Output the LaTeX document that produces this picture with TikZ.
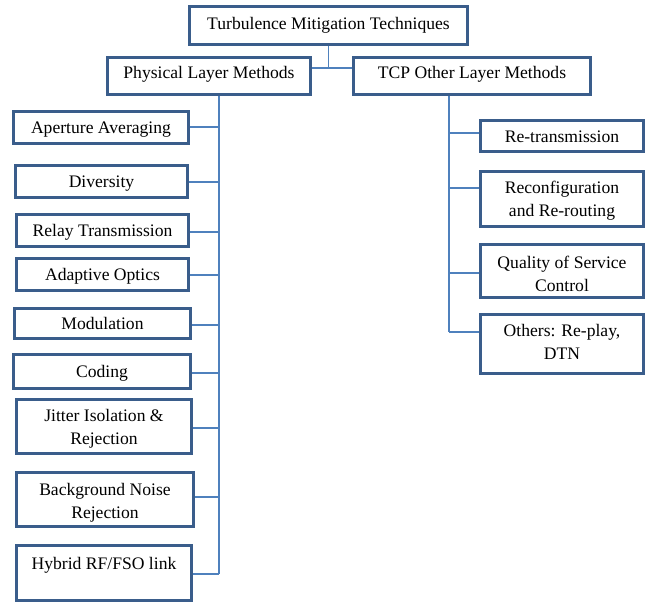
\documentclass[tikz,border=0pt]{standalone}
\usepackage{fontspec}
\setmainfont{Liberation Serif}
\definecolor{boxline}{HTML}{3A5D8B}
\definecolor{linkline}{HTML}{4F81BD}
\begin{document}
\begin{tikzpicture}[x=1pt,y=-1pt,
  box/.style={draw=boxline, line width=2.7pt, fill=white, rectangle,
    inner sep=0pt, align=center,
    font=\fontsize{17.6}{23}\selectfont,
    text height=17pt, text depth=4.5pt},
  % two-line boxes: the text height sets where the lines sit in the box
  twoline/.style={text height=#1pt},
  link/.style={draw=linkline, line width=1.3pt}]
\useasboundingbox (0,0) rectangle (652,603);

% root and the two branches
\node[box, text depth=8.5pt, minimum width=278, minimum height=38] (root) at (328.5,25.5) {Turbulence Mitigation Techniques};
\node[box, text depth=12.5pt, minimum width=203, minimum height=37] (phys) at (209,76) {Physical Layer Methods};
\node[box, text depth=12.5pt, minimum width=237, minimum height=37] (tcp) at (472,76) {TCP Other Layer Methods};

% physical layer methods
\node[box, minimum width=175, minimum height=32] (aper) at (101,127.5) {Aperture Averaging};
\node[box, minimum width=172, minimum height=32] (div) at (101.5,181.5) {Diversity};
\node[box, minimum width=172, minimum height=32] (relay) at (102.5,230.5) {Relay Transmission};
\node[box, minimum width=172, minimum height=32] (adapt) at (102.5,274.5) {Adaptive Optics};
\node[box, minimum width=176, minimum height=30] (modu) at (102.5,323.5) {Modulation};
\node[box, minimum width=177, minimum height=34] (cod) at (102,371.5) {Coding};
\node[box, twoline=41.3, minimum width=175, minimum height=54] (jit) at (104,426.5) {Jitter Isolation \&\\Rejection};
\node[box, twoline=42.3, minimum width=177, minimum height=54] (bg) at (105,499.5) {Background Noise\\Rejection};
\node[box, twoline=43.3, minimum width=175, minimum height=55] (hyb) at (104,573) {Hybrid RF/FSO link\\~};

% other layer methods
\node[box, minimum width=163, minimum height=31] (retx) at (562,136) {Re-transmission};
\node[box, twoline=39.3, minimum width=163, minimum height=55] (reconf) at (562,199) {Reconfiguration\\and Re-routing};
\node[box, twoline=45.3, minimum width=163, minimum height=53] (qos) at (562,271) {Quality of Service\\Control};
\node[box, twoline=35.3, minimum width=163, minimum height=59] (oth) at (562,344) {Others: Re-play,\\DTN};

% junction under the root
\coordinate (jn) at (330,68);
\draw[link] (root.south) -- (root.south |- jn);
\draw[link] (phys.east |- jn) -- (tcp.west |- jn);

% left spine and its stubs
\coordinate (spL) at (219,96);
\coordinate (spLend) at (219,574);
\draw[link] (spL) -- (spLend);
\foreach \n/\d in {aper/0.5, div/-0.5, relay/-1.5, adapt/-0.5, modu/-1.5, cod/-1.5, jit/-1.5, bg/2.5, hyb/-1}
  \draw[link] ([yshift=\d pt]\n.east) coordinate (t) -- (t -| spL);

% right spine and its stubs
\coordinate (spR) at (449,96);
\coordinate (spRend) at (449,332);
\draw[link] (spR) -- (spRend);
\foreach \n/\d in {retx/3, reconf/11, qos/-2, oth/12}
  \draw[link] ([yshift=\d pt]\n.west) coordinate (t) -- (t -| spR);
\end{tikzpicture}
\end{document}
